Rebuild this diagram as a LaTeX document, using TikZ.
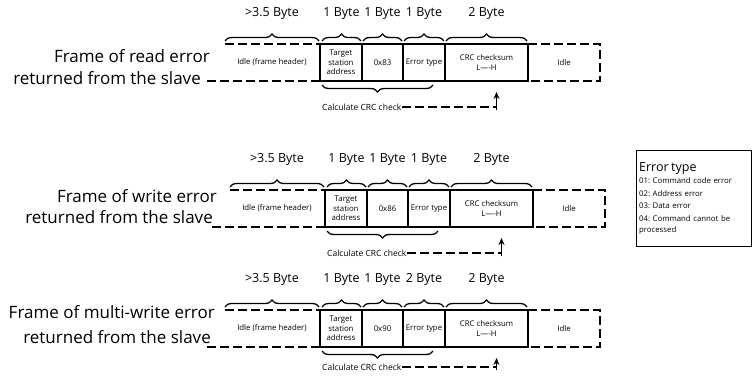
\documentclass[tikz,border=0pt]{standalone}
\usepackage{fontspec}
\setmainfont{Open Sans}
\usetikzlibrary{arrows.meta, decorations.pathreplacing, positioning, calc}

\tikzset{
  solidline/.style={line width=1.6pt},
  dashline/.style={line width=1.6pt, dash pattern=on 9pt off 4pt},
  cell/.style={draw, solidline, minimum height=37pt, inner sep=0pt,
    outer sep=0pt, align=center, font=\fontsize{7.8}{9.5}\selectfont},
  bytebrace/.style={decorate, decoration={brace, amplitude=7pt},
    line width=1.3pt},
  bytelbl/.style={font=\fontsize{12.5}{14}\selectfont, inner sep=0pt},
  rowlbl/.style={font=\fontsize{17}{20}\selectfont, anchor=east, inner sep=0pt},
  calctxt/.style={font=\fontsize{8.5}{10}\selectfont, anchor=west, inner sep=1pt},
}

\begin{document}
\begin{tikzpicture}[x=1pt, y=-1pt, >={Stealth[length=7pt, width=6pt]}]
  \useasboundingbox (0,0) rectangle (756,376);

  % One row per error frame
  \foreach \n/\y/\dx/\kind/\code/\eb/\ta/\tb/\xa/\xb/\cy in
      {1/44/0/read/0x83/1/12/34/210/201/63,
       2/190/5/write/0x86/1/6/27/212/208/63,
       3/310/0/multi-write/0x90/2/2/27/215/211/57}{
    \begin{scope}[shift={(\dx,\y)}]
      % row title
      \node[rowlbl] (ttl\n) at (\xa,\ta) {Frame of \kind{} error};
      \node[rowlbl] (sub\n) at (\xb,\tb) {returned from the slave};

      % leading idle (dashed)
      \draw[dashline] (225,0) -- (320,0);
      \draw[dashline] (207,37) -- (320,37);
      \node[font=\fontsize{7.8}{9.5}\selectfont] (idle\n) at (272,18.5)
        {Idle (frame header)};

      % data fields
      \node[cell, minimum width=42pt, anchor=west] (tgt\n) at (320,18.5)
        {Target\\station\\address};
      \node[cell, minimum width=41pt, right=0pt of tgt\n] (cmd\n) {\code};
      \node[cell, minimum width=42pt, right=0pt of cmd\n] (err\n) {Error type};
      \node[cell, minimum width=83pt, right=0pt of err\n] (crc\n)
        {CRC checksum\\L----H};

      % trailing idle (dashed)
      \draw[dashline] (crc\n.north east) -- ++(72,0) -- ++(0,37) -- (crc\n.south east);
      \node[font=\fontsize{7.8}{9.5}\selectfont] (end\n) at (564,18.5) {Idle};

      % byte counts
      \draw[bytebrace] (225,-3) -- node[bytelbl, above=21pt] {>3.5 Byte} (319,-3);
      \draw[bytebrace] ($(tgt\n.north west)+(2,-3)$) --
        node[bytelbl, above=21pt] {1 Byte} ($(tgt\n.north east)+(-1,-3)$);
      \draw[bytebrace] ($(cmd\n.north west)+(1,-3)$) --
        node[bytelbl, above=21pt] {1 Byte} ($(cmd\n.north east)+(-1,-3)$);
      \draw[bytebrace] ($(err\n.north west)+(1,-3)$) --
        node[bytelbl, above=21pt] {\eb{} Byte} ($(err\n.north east)+(-1,-3)$);
      \draw[bytebrace] ($(crc\n.north west)+(1,-3)$) --
        node[bytelbl, above=21pt] {2 Byte} ($(crc\n.north east)+(-1,-3)$);

      % CRC range and pointer
      \draw[bytebrace] ($(err\n.south east)+(-12,4)$) -- ($(tgt\n.south west)+(2,4)$);
      \node[calctxt] (calc\n) at (321,\cy) {Calculate CRC check};
      \coordinate (ptr\n) at ($(crc\n.south)+(10,11)$);
      \draw[dashline] (calc\n.east) -- (calc\n.east -| ptr\n);
      \draw[->, line width=1.6pt] ($(calc\n.east -| ptr\n)+(0,3)$) -- (ptr\n);
    \end{scope}
  }

  % Error type legend
  \node[draw, line width=1.2pt, anchor=north west, text width=110pt,
        minimum height=96pt, inner sep=2.5pt, align=left,
        font=\fontsize{7.8}{11}\selectfont] (legend) at (636,150)
    {{\fontsize{12.5}{14}\selectfont Error type}\\[1pt]
     01:\ Command code error\\[1.5pt]
     02:\ Address error\\[1.5pt]
     03:\ Data error\\[1.5pt]
     04:\ Command cannot be\\
     processed};
\end{tikzpicture}
\end{document}
